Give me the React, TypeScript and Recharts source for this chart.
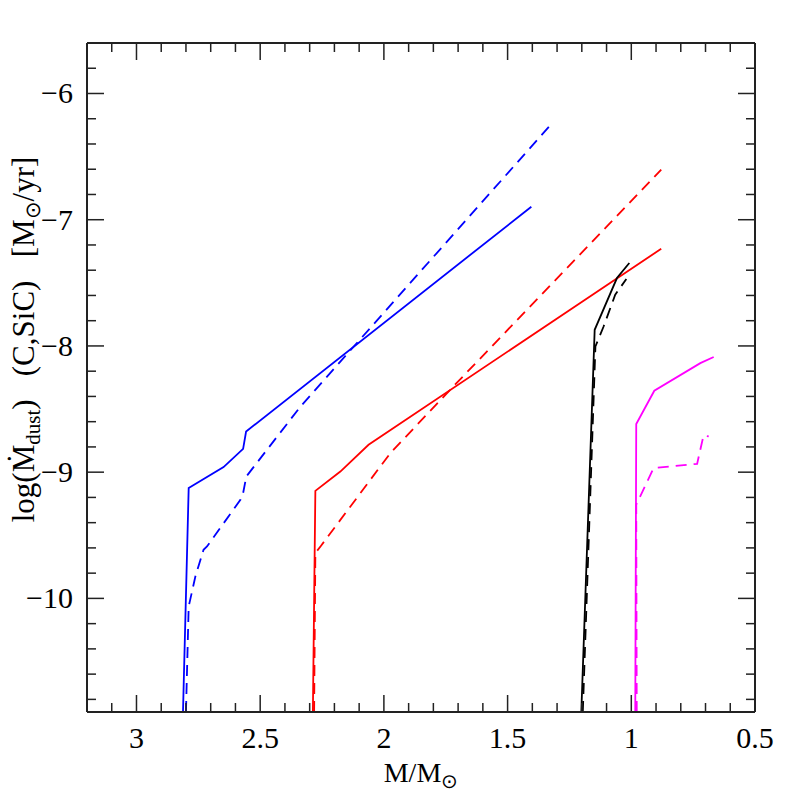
import React from 'react';
import { LineChart, Line, XAxis, YAxis } from 'recharts';

// M/Msun (x) and log Mdot_dust (y), one pair of arrays per track
const blueSolidMass = [2.812, 2.789, 2.648, 2.569, 2.557, 1.404];
const blueSolidLog = [-10.9, -9.126, -8.96, -8.815, -8.678, -6.897];

const blueDashMass = [2.8, 2.789, 2.762, 2.729, 2.715, 2.58, 2.569, 2.556, 2.338, 1.315];
const blueDashLog = [-10.9, -10.064, -9.827, -9.615, -9.589, -9.219, -9.166, -9.034, -8.482, -6.224];

const redSolidMass = [2.287, 2.277, 2.176, 2.062, 0.879];
const redSolidLog = [-10.9, -9.148, -8.995, -8.783, -7.23];

const redDashMass = [2.282, 2.277, 2.254, 1.974, 1.732, 0.879];
const redDashLog = [-10.9, -9.641, -9.583, -8.849, -8.347, -6.604];

const blackSolidMass = [1.202, 1.148, 1.058, 1.008];
const blackSolidLog = [-10.9, -7.872, -7.462, -7.343];

const blackDashMass = [1.196, 1.145, 1.112, 1.065, 1.02];
const blackDashLog = [-10.9, -8.004, -7.846, -7.594, -7.47];

const magentaSolidMass = [0.984, 0.98, 0.907, 0.721, 0.667];
const magentaSolidLog = [-10.9, -8.619, -8.355, -8.136, -8.088];

const magentaDashMass = [0.978, 0.98, 0.91, 0.734, 0.708, 0.687];
const magentaDashLog = [-10.9, -9.258, -8.968, -8.934, -8.709, -8.717];

const xTicks = [
  0.5, 0.6, 0.7, 0.8, 0.9, 1, 1.1, 1.2, 1.3, 1.4, 1.5, 1.6, 1.7, 1.8, 1.9, 2,
  2.1, 2.2, 2.3, 2.4, 2.5, 2.6, 2.7, 2.8, 2.9, 3, 3.1, 3.2,
];
const yTicks = [
  -10.8, -10.6, -10.4, -10.2, -10, -9.8, -9.6, -9.4, -9.2, -9, -8.8, -8.6, -8.4,
  -8.2, -8, -7.8, -7.6, -7.4, -7.2, -7, -6.8, -6.6, -6.4, -6.2, -6, -5.8,
];

const toPoints = (mass: number[], logs: number[]) => mass.map((m, i) => ({ m, v: logs[i] }));

const tracks = [
  { key: 'blue-dash', data: toPoints(blueDashMass, blueDashLog), color: '#0000ff', dashed: true },
  { key: 'blue', data: toPoints(blueSolidMass, blueSolidLog), color: '#0000ff', dashed: false },
  { key: 'red-dash', data: toPoints(redDashMass, redDashLog), color: '#ff0000', dashed: true },
  { key: 'red', data: toPoints(redSolidMass, redSolidLog), color: '#ff0000', dashed: false },
  { key: 'black-dash', data: toPoints(blackDashMass, blackDashLog), color: '#000000', dashed: true },
  { key: 'black', data: toPoints(blackSolidMass, blackSolidLog), color: '#000000', dashed: false },
  { key: 'magenta-dash', data: toPoints(magentaDashMass, magentaDashLog), color: '#ff00ff', dashed: true },
  { key: 'magenta', data: toPoints(magentaSolidMass, magentaSolidLog), color: '#ff00ff', dashed: false },
];

const FONT = '"Liberation Serif", "Times New Roman", serif';
const MAJOR = 17;
const MINOR = 9;
const isMajorX = (v: number) => Math.abs(v * 2 - Math.round(v * 2)) < 1e-6;
const isMajorY = (v: number) => Math.abs(v - Math.round(v)) < 1e-6;

const BottomTick = (props: any) => {
  const { x, y, payload } = props;
  const major = isMajorX(payload.value);
  return (
    <g>
      <line x1={x} x2={x} y1={y} y2={y - (major ? MAJOR : MINOR)} stroke="#222" strokeWidth={1.5} />
      {major && (
        <text x={x} y={y + 36} textAnchor="middle" fontFamily={FONT} fontSize={30} fill="#000">
          {String(Math.round(payload.value * 10) / 10)}
        </text>
      )}
    </g>
  );
};

const TopTick = (props: any) => {
  const { x, y, payload } = props;
  const major = isMajorX(payload.value);
  return <line x1={x} x2={x} y1={y} y2={y + (major ? MAJOR : MINOR)} stroke="#222" strokeWidth={1.5} />;
};

const LeftTick = (props: any) => {
  const { x, y, payload } = props;
  const major = isMajorY(payload.value);
  return (
    <g>
      <line x1={x} x2={x + (major ? MAJOR : MINOR)} y1={y} y2={y} stroke="#222" strokeWidth={1.5} />
      {major && (
        <text x={x - 14} y={y + 10} textAnchor="end" fontFamily={FONT} fontSize={30} fill="#000">
          {'\u2212' + Math.abs(Math.round(payload.value))}
        </text>
      )}
    </g>
  );
};

const RightTick = (props: any) => {
  const { x, y, payload } = props;
  const major = isMajorY(payload.value);
  return <line x1={x} x2={x - (major ? MAJOR : MINOR)} y1={y} y2={y} stroke="#222" strokeWidth={1.5} />;
};

const XTitle = (props: any) => {
  const { viewBox } = props;
  const cx = viewBox.x + viewBox.width / 2;
  return (
    <text x={cx} y={782} textAnchor="middle" fontFamily={FONT} fontSize={28} fill="#000">
      M/M<tspan dy={6} fontSize={20}>⊙</tspan>
    </text>
  );
};

const YTitle = (props: any) => {
  const { viewBox } = props;
  const cy = viewBox.y + viewBox.height / 2 - 38;
  const cx = 34;
  return (
    <text
      x={cx}
      y={cy}
      transform={`rotate(-90, ${cx}, ${cy})`}
      textAnchor="middle"
      fontFamily={FONT}
      fontSize={31}
      fill="#000"
      style={{ whiteSpace: 'pre' }}
    >
      log(Ṁ<tspan dy={6} fontSize={21}>dust</tspan>
      <tspan dy={-6}>{')   (C,SiC)   [M'}</tspan>
      <tspan dy={6} fontSize={21}>⊙</tspan>
      <tspan dy={-6}>/yr]</tspan>
    </text>
  );
};

export default function App() {
  return (
    <div style={{ position: 'absolute', left: 0, top: 0, background: '#fff' }}>
      <LineChart width={797} height={797} margin={{ top: 42, right: 41, bottom: 84, left: 86 }}>
        <XAxis
          dataKey="m"
          type="number"
          domain={[0.5, 3.2]}
          reversed
          allowDataOverflow
          ticks={xTicks}
          interval={0}
          height={1}
          tickSize={0}
          tickMargin={0}
          tick={BottomTick}
          axisLine={{ stroke: '#222', strokeWidth: 2 }}
          label={{ content: XTitle }}
        />
        <XAxis
          xAxisId="top"
          orientation="top"
          dataKey="m"
          type="number"
          domain={[0.5, 3.2]}
          reversed
          allowDataOverflow
          ticks={xTicks}
          interval={0}
          height={1}
          tickSize={0}
          tickMargin={0}
          tick={TopTick}
          axisLine={{ stroke: '#222', strokeWidth: 2 }}
        />
        <YAxis
          type="number"
          domain={[-10.9, -5.6]}
          allowDataOverflow
          ticks={yTicks}
          interval={0}
          width={1}
          tickSize={0}
          tickMargin={0}
          tick={LeftTick}
          axisLine={{ stroke: '#222', strokeWidth: 2 }}
          label={{ content: YTitle }}
        />
        <YAxis
          yAxisId="right"
          orientation="right"
          type="number"
          domain={[-10.9, -5.6]}
          allowDataOverflow
          ticks={yTicks}
          interval={0}
          width={1}
          tickSize={0}
          tickMargin={0}
          tick={RightTick}
          axisLine={{ stroke: '#222', strokeWidth: 2 }}
        />
        {tracks.map((t) => (
          <Line
            key={t.key}
            data={t.data}
            dataKey="v"
            type="linear"
            stroke={t.color}
            strokeWidth={1.8}
            strokeDasharray={t.dashed ? '11 7' : undefined}
            dot={false}
            activeDot={false}
            isAnimationActive={false}
          />
        ))}
      </LineChart>
    </div>
  );
}
